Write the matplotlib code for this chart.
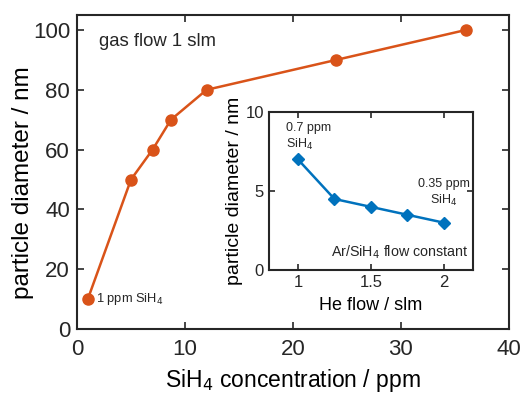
import matplotlib.pyplot as plt

plt.rcParams.update(
    {
        "font.family": ["Liberation Sans", "DejaVu Sans"],
        "axes.linewidth": 1.5,
        "axes.edgecolor": "#262626",
        "xtick.direction": "in",
        "ytick.direction": "in",
        "xtick.top": True,
        "ytick.right": True,
        "text.color": "#262626",
        "xtick.color": "#262626",
        "ytick.color": "#262626",
    }
)

ORANGE = "#D95319"
BLUE = "#0072BD"

# main series: particle size vs SiH4 concentration
conc_ppm = [1, 5, 7, 8.7, 12, 24, 36]
diam_main = [10, 50, 60, 70, 80, 90, 100]

# inset series: particle size vs He flow
he_flow = [1.0, 1.25, 1.5, 1.75, 2.0]
diam_inset = [7.0, 4.5, 4.0, 3.5, 3.0]

fig = plt.figure(figsize=(5.22, 3.96), dpi=100)
ax = fig.add_axes([0.1475, 0.169, 0.8275, 0.793])
ax.plot(conc_ppm, diam_main, color=ORANGE, linewidth=1.8, marker="o", markersize=8)
ax.set_xlim(0, 40)
ax.set_ylim(0, 105)
ax.set_xticks([0, 10, 20, 30, 40])
ax.set_yticks([0, 20, 40, 60, 80, 100])
ax.tick_params(labelsize=16, length=5, width=1.2)
ax.tick_params(axis="x", pad=7)
ax.tick_params(axis="y", pad=5)
ax.set_xlabel("SiH$_4$ concentration / ppm", fontsize=16.5, labelpad=5)
ax.set_ylabel("particle diameter / nm", fontsize=17.5)
ax.yaxis.set_label_coords(-0.1, 0.465)
ax.text(2.0, 96, "gas flow 1 slm", fontsize=13.3, va="center")
ax.text(1.8, 10, "1 ppm SiH$_4$", fontsize=9.3, va="center")

ins = fig.add_axes([0.515, 0.318, 0.391, 0.399])
ins.plot(he_flow, diam_inset, color=BLUE, linewidth=1.8, marker="D", markersize=6)
ins.set_xlim(0.8, 2.2)
ins.set_ylim(0, 10)
ins.set_xticks([1, 1.5, 2])
ins.set_xticklabels(["1", "1.5", "2"])
ins.set_yticks([0, 5, 10])
ins.tick_params(labelsize=12, length=4, width=1.2)
ins.set_xlabel("He flow / slm", fontsize=13, labelpad=5)
ins.set_ylabel("particle diameter / nm", fontsize=14, labelpad=2)
ins.text(0.92, 8.4, "0.7 ppm\nSiH$_4$", fontsize=9, va="center", linespacing=1.25)
ins.text(2.0, 4.9, "0.35 ppm\nSiH$_4$", fontsize=9, va="center", ha="center",
         linespacing=1.25, multialignment="center")
ins.text(2.17, 0.55, "Ar/SiH$_4$ flow constant", fontsize=10.3, ha="right", va="bottom")

fig.savefig("out.png", dpi=100)
